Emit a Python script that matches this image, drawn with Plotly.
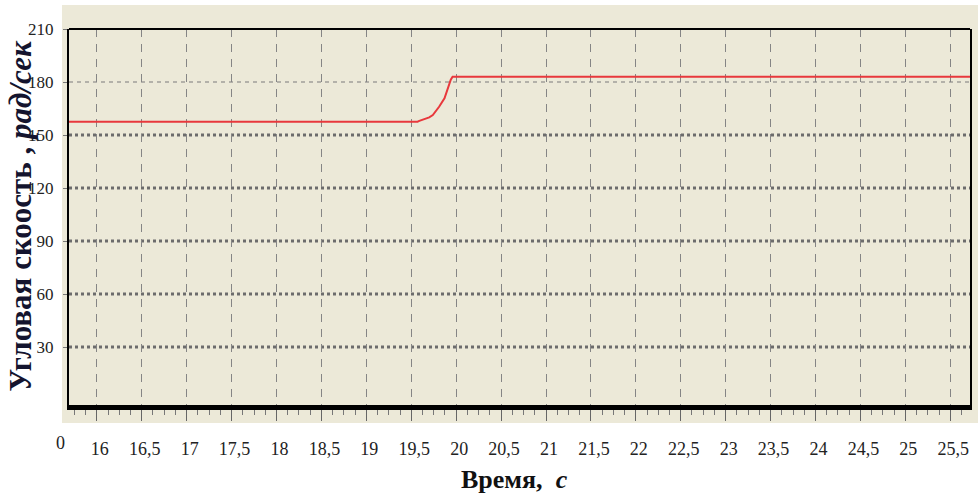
import plotly.graph_objects as go

# ---- data ----
time_s = [15.69, 19.57, 19.59, 19.64, 19.70, 19.74, 19.77, 19.81, 19.87, 19.90, 19.94, 19.96, 25.72]
omega = [157.5, 157.5, 158.0, 158.8, 160.0, 161.3, 163.2, 166.0, 170.8, 175.6, 181.3, 183.0, 183.0]

x_tickvals = [16, 16.5, 17, 17.5, 18, 18.5, 19, 19.5, 20, 20.5, 21, 21.5, 22, 22.5, 23, 23.5, 24, 24.5, 25, 25.5]
x_ticktext = ["16", "16,5", "17", "17,5", "18", "18,5", "19", "19,5", "20", "20,5", "21", "21,5",
              "22", "22,5", "23", "23,5", "24", "24,5", "25", "25,5"]
y_tickvals = [30, 60, 90, 120, 150, 180, 210]
y_ticktext = ["30", "60", "90", "120", "150", "180", "210"]
x_range = [15.69, 25.72]
y_range = [-2.8, 210]

BEIGE = "#ECE9D8"
FONT = "Liberation Serif"

fig = go.Figure()
fig.add_trace(go.Scatter(x=time_s, y=omega, mode="lines",
                         line=dict(color="#E8383C", width=2), showlegend=False,
                         hoverinfo="skip"))

shapes = []
# beige panel behind the plot
shapes.append(dict(type="rect", xref="paper", yref="paper", x0=-0.0078, x1=1.0089,
                   y0=-0.048, y1=1.064, fillcolor=BEIGE, line=dict(width=0), layer="below"))
# horizontal grid lines
for v in y_tickvals[:-1]:
    if v == 180:
        ln = dict(color="#7a7a7a", width=1.2, dash="4px,4px")
    else:
        ln = dict(color="#6c6c6c", width=3, dash="3px,3px")
    shapes.append(dict(type="line", xref="paper", yref="y", x0=0, x1=1, y0=v, y1=v,
                       line=ln, layer="between"))
# top border
shapes.append(dict(type="line", xref="paper", yref="paper", x0=0, x1=1, y0=1, y1=1,
                   line=dict(color="black", width=2)))

annotations = [
    dict(text="<b>Угловая скоость , <i>рад/сек</i></b>", textangle=-90,
         xref="paper", yref="paper", x=-0.054, y=0.505, xanchor="center", yanchor="middle",
         showarrow=False, font=dict(family=FONT, size=31, color="#14142e")),
    dict(text="<b>Время,  <i>с</i></b>", xref="paper", yref="paper", x=0.494, y=-0.199,
         xanchor="center", yanchor="middle", showarrow=False,
         font=dict(family=FONT, size=26, color="#111111")),
    dict(text="0", xref="paper", yref="paper", x=-0.0089, y=-0.101, xanchor="center",
         yanchor="middle", showarrow=False, font=dict(family=FONT, size=18, color="#222222")),
]

fig.update_layout(
    width=980, height=501,
    margin=dict(l=69, r=8, t=29, b=96),
    paper_bgcolor="white", plot_bgcolor=BEIGE,
    shapes=shapes, annotations=annotations,
    xaxis=dict(range=x_range, tickmode="array", tickvals=x_tickvals, ticktext=x_ticktext,
               showgrid=True, gridcolor="#858585", gridwidth=1, griddash="8px,7px",
               showline=True, linecolor="black", linewidth=5, mirror=False,
               ticks="outside", ticklen=11, tickcolor="#666666", tickwidth=1,
               ticklabelstandoff=12, ticklabelshift=3,
               minor=dict(tick0=16, dtick=0.125, ticks="outside", ticklen=5,
                          tickcolor="#777777", showgrid=False),
               tickfont=dict(family=FONT, size=18, color="#222222"), zeroline=False),
    yaxis=dict(range=y_range, tickmode="array", tickvals=y_tickvals, ticktext=y_ticktext,
               showgrid=False, showline=True, linecolor="black", linewidth=2, mirror=True,
               ticks="outside", ticklen=4, tickcolor="#777777", ticklabelstandoff=6,
               tickfont=dict(family=FONT, size=17, color="#222222"), zeroline=False),
)

fig.write_html("out.html", config={"displayModeBar": False},
               post_script="document.body.style.margin='0';")
